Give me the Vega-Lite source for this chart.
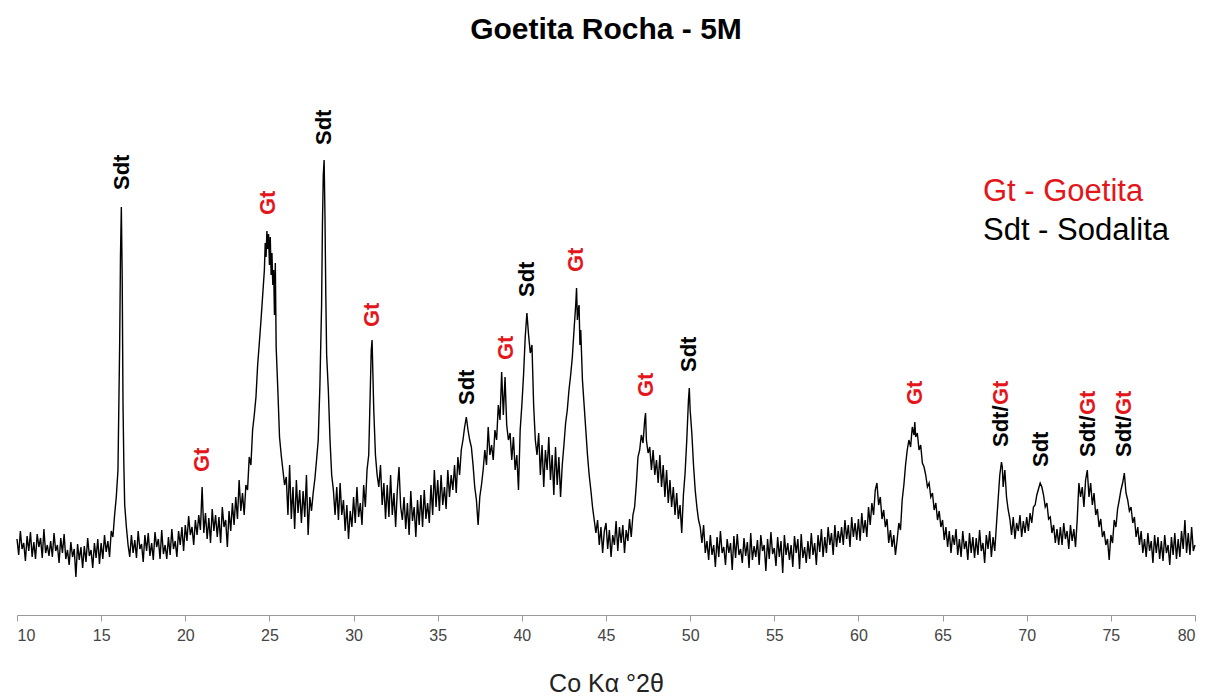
{
"$schema":"https://vega.github.io/schema/vega-lite/v6.json",
"autosize":{"type":"none"},
"width":1178,"height":515,
"padding":{"left":17,"top":100,"right":15,"bottom":84},
"background":"white",
"config":{"view":{"stroke":null},"font":"Liberation Sans"},
"title":{"text":"Goetita Rocha - 5M","anchor":"middle","frame":"group","offset":31,"fontSize":30,"font":"Liberation Sans","fontWeight":"bold","color":"#000000","baseline":"alphabetic"},
"datasets":{
"xrd":[
{"x":10.0,"y":76},{"x":10.1,"y":60},{"x":10.2,"y":84},{"x":10.3,"y":66},{"x":10.4,"y":72},{"x":10.5,"y":54},{"x":10.6,"y":79},{"x":10.7,"y":64},{"x":10.8,"y":83},{"x":10.9,"y":58},
{"x":11.0,"y":73},{"x":11.1,"y":56},{"x":11.2,"y":81},{"x":11.3,"y":68},{"x":11.4,"y":77},{"x":11.5,"y":57},{"x":11.6,"y":86},{"x":11.7,"y":62},{"x":11.8,"y":70},{"x":11.9,"y":59},
{"x":12.0,"y":74},{"x":12.1,"y":58},{"x":12.2,"y":82},{"x":12.3,"y":64},{"x":12.4,"y":70},{"x":12.5,"y":52},{"x":12.6,"y":77},{"x":12.7,"y":62},{"x":12.8,"y":81},{"x":12.9,"y":56},
{"x":13.0,"y":65},{"x":13.1,"y":50},{"x":13.2,"y":73},{"x":13.3,"y":58},{"x":13.4,"y":66},{"x":13.5,"y":38},{"x":13.6,"y":71},{"x":13.7,"y":55},{"x":13.8,"y":68},{"x":13.9,"y":47},
{"x":14.0,"y":69},{"x":14.1,"y":53},{"x":14.2,"y":77},{"x":14.3,"y":59},{"x":14.4,"y":65},{"x":14.5,"y":47},{"x":14.6,"y":72},{"x":14.7,"y":57},{"x":14.8,"y":76},{"x":14.9,"y":51},
{"x":15.0,"y":72},{"x":15.1,"y":56},{"x":15.2,"y":80},{"x":15.3,"y":63},{"x":15.4,"y":74},{"x":15.5,"y":58},{"x":15.6,"y":84},{"x":15.7,"y":78},{"x":15.8,"y":100},{"x":15.9,"y":118},
{"x":16.0,"y":145},{"x":16.1,"y":270},{"x":16.15,"y":360},{"x":16.2,"y":408},{"x":16.25,"y":340},{"x":16.3,"y":210},{"x":16.35,"y":150},{"x":16.4,"y":110},{"x":16.5,"y":88},{"x":16.6,"y":70},{"x":16.7,"y":58},{"x":16.8,"y":80},{"x":16.9,"y":62},
{"x":17.0,"y":75},{"x":17.1,"y":57},{"x":17.2,"y":84},{"x":17.3,"y":66},{"x":17.4,"y":71},{"x":17.5,"y":53},{"x":17.6,"y":80},{"x":17.7,"y":64},{"x":17.8,"y":82},{"x":17.9,"y":59},
{"x":18.0,"y":72},{"x":18.1,"y":55},{"x":18.2,"y":83},{"x":18.3,"y":68},{"x":18.4,"y":76},{"x":18.5,"y":56},{"x":18.6,"y":85},{"x":18.7,"y":61},{"x":18.8,"y":70},{"x":18.9,"y":56},
{"x":19.0,"y":78},{"x":19.1,"y":60},{"x":19.2,"y":86},{"x":19.3,"y":66},{"x":19.4,"y":74},{"x":19.5,"y":58},{"x":19.6,"y":84},{"x":19.7,"y":70},{"x":19.8,"y":88},{"x":19.9,"y":64},
{"x":20.0,"y":90},{"x":20.1,"y":74},{"x":20.2,"y":99},{"x":20.3,"y":80},{"x":20.4,"y":88},{"x":20.5,"y":70},{"x":20.6,"y":95},{"x":20.7,"y":80},{"x":20.8,"y":100},{"x":20.9,"y":85},
{"x":21.0,"y":128},{"x":21.1,"y":82},{"x":21.2,"y":102},{"x":21.3,"y":76},{"x":21.4,"y":97},{"x":21.5,"y":72},{"x":21.6,"y":106},{"x":21.7,"y":84},{"x":21.8,"y":100},{"x":21.9,"y":78},
{"x":22.0,"y":98},{"x":22.1,"y":72},{"x":22.2,"y":108},{"x":22.3,"y":88},{"x":22.4,"y":95},{"x":22.5,"y":68},{"x":22.6,"y":104},{"x":22.7,"y":84},{"x":22.8,"y":112},{"x":22.9,"y":90},
{"x":23.0,"y":118},{"x":23.1,"y":96},{"x":23.2,"y":135},{"x":23.3,"y":104},{"x":23.4,"y":122},{"x":23.5,"y":100},{"x":23.6,"y":130},{"x":23.7,"y":125},{"x":23.8,"y":158},{"x":23.9,"y":150},
{"x":24.0,"y":185},{"x":24.1,"y":200},{"x":24.2,"y":218},{"x":24.3,"y":250},{"x":24.4,"y":272},{"x":24.5,"y":295},{"x":24.6,"y":320},{"x":24.7,"y":345},{"x":24.75,"y":372},{"x":24.8,"y":358},{"x":24.85,"y":384},{"x":24.9,"y":366},{"x":24.95,"y":381},
{"x":25.0,"y":350},{"x":25.05,"y":378},{"x":25.1,"y":340},{"x":25.15,"y":362},{"x":25.2,"y":330},{"x":25.25,"y":345},{"x":25.3,"y":300},{"x":25.35,"y":352},{"x":25.4,"y":268},{"x":25.5,"y":225},{"x":25.6,"y":178},{"x":25.7,"y":160},{"x":25.8,"y":145},{"x":25.9,"y":130},
{"x":26.0,"y":138},{"x":26.1,"y":100},{"x":26.2,"y":150},{"x":26.3,"y":96},{"x":26.4,"y":128},{"x":26.5,"y":86},{"x":26.6,"y":135},{"x":26.7,"y":102},{"x":26.8,"y":125},{"x":26.9,"y":92},
{"x":27.0,"y":124},{"x":27.1,"y":98},{"x":27.2,"y":140},{"x":27.3,"y":80},{"x":27.4,"y":118},{"x":27.5,"y":104},{"x":27.6,"y":122},{"x":27.7,"y":136},{"x":27.8,"y":155},{"x":27.9,"y":175},
{"x":28.0,"y":230},{"x":28.1,"y":310},{"x":28.15,"y":390},{"x":28.2,"y":440},{"x":28.25,"y":455},{"x":28.3,"y":400},{"x":28.35,"y":320},{"x":28.4,"y":260},{"x":28.5,"y":225},{"x":28.6,"y":175},{"x":28.7,"y":140},{"x":28.8,"y":125},{"x":28.9,"y":100},
{"x":29.0,"y":128},{"x":29.1,"y":95},{"x":29.2,"y":132},{"x":29.3,"y":100},{"x":29.4,"y":115},{"x":29.5,"y":84},{"x":29.6,"y":110},{"x":29.7,"y":76},{"x":29.8,"y":104},{"x":29.9,"y":88},
{"x":30.0,"y":118},{"x":30.1,"y":92},{"x":30.2,"y":128},{"x":30.3,"y":98},{"x":30.4,"y":112},{"x":30.5,"y":90},{"x":30.6,"y":130},{"x":30.7,"y":108},{"x":30.8,"y":145},{"x":30.9,"y":160},
{"x":31.0,"y":230},{"x":31.05,"y":265},{"x":31.1,"y":275},{"x":31.15,"y":240},{"x":31.2,"y":205},{"x":31.3,"y":160},{"x":31.4,"y":140},{"x":31.5,"y":128},{"x":31.6,"y":150},{"x":31.7,"y":110},{"x":31.8,"y":132},{"x":31.9,"y":96},
{"x":32.0,"y":130},{"x":32.1,"y":98},{"x":32.2,"y":140},{"x":32.3,"y":100},{"x":32.4,"y":122},{"x":32.5,"y":88},{"x":32.6,"y":125},{"x":32.7,"y":148},{"x":32.8,"y":108},{"x":32.9,"y":95},
{"x":33.0,"y":118},{"x":33.1,"y":86},{"x":33.2,"y":112},{"x":33.3,"y":80},{"x":33.4,"y":124},{"x":33.5,"y":94},{"x":33.6,"y":108},{"x":33.7,"y":78},{"x":33.8,"y":115},{"x":33.9,"y":90},
{"x":34.0,"y":120},{"x":34.1,"y":88},{"x":34.2,"y":125},{"x":34.3,"y":96},{"x":34.4,"y":112},{"x":34.5,"y":92},{"x":34.6,"y":130},{"x":34.7,"y":100},{"x":34.8,"y":145},{"x":34.9,"y":108},
{"x":35.0,"y":135},{"x":35.1,"y":104},{"x":35.2,"y":140},{"x":35.3,"y":110},{"x":35.4,"y":128},{"x":35.5,"y":106},{"x":35.6,"y":145},{"x":35.7,"y":118},{"x":35.8,"y":140},{"x":35.9,"y":125},
{"x":36.0,"y":150},{"x":36.1,"y":122},{"x":36.2,"y":158},{"x":36.3,"y":140},{"x":36.4,"y":165},{"x":36.5,"y":175},{"x":36.6,"y":188},{"x":36.7,"y":198},{"x":36.8,"y":185},{"x":36.9,"y":175},
{"x":37.0,"y":168},{"x":37.1,"y":150},{"x":37.2,"y":128},{"x":37.3,"y":115},{"x":37.4,"y":90},{"x":37.5,"y":118},{"x":37.6,"y":130},{"x":37.7,"y":145},{"x":37.8,"y":165},{"x":37.9,"y":150},
{"x":38.0,"y":188},{"x":38.1,"y":160},{"x":38.2,"y":170},{"x":38.3,"y":155},{"x":38.4,"y":185},{"x":38.5,"y":175},{"x":38.6,"y":210},{"x":38.7,"y":195},{"x":38.8,"y":243},{"x":38.9,"y":200},
{"x":39.0,"y":238},{"x":39.1,"y":190},{"x":39.2,"y":175},{"x":39.3,"y":182},{"x":39.4,"y":155},{"x":39.5,"y":178},{"x":39.6,"y":145},{"x":39.7,"y":160},{"x":39.8,"y":125},{"x":39.9,"y":185},
{"x":40.0,"y":210},{"x":40.1,"y":240},{"x":40.2,"y":278},{"x":40.3,"y":302},{"x":40.4,"y":280},{"x":40.5,"y":262},{"x":40.6,"y":270},{"x":40.7,"y":210},{"x":40.8,"y":175},{"x":40.9,"y":160},
{"x":41.0,"y":182},{"x":41.1,"y":140},{"x":41.2,"y":170},{"x":41.3,"y":128},{"x":41.4,"y":165},{"x":41.5,"y":145},{"x":41.6,"y":178},{"x":41.7,"y":135},{"x":41.8,"y":160},{"x":41.9,"y":120},
{"x":42.0,"y":168},{"x":42.1,"y":130},{"x":42.2,"y":158},{"x":42.3,"y":118},{"x":42.4,"y":150},{"x":42.5,"y":170},{"x":42.6,"y":192},{"x":42.7,"y":205},{"x":42.8,"y":225},{"x":42.9,"y":240},
{"x":43.0,"y":258},{"x":43.1,"y":285},{"x":43.2,"y":310},{"x":43.25,"y":327},{"x":43.3,"y":295},{"x":43.35,"y":305},{"x":43.4,"y":310},{"x":43.45,"y":270},{"x":43.5,"y":285},{"x":43.6,"y":235},{"x":43.7,"y":210},{"x":43.8,"y":185},{"x":43.9,"y":160},
{"x":44.0,"y":140},{"x":44.1,"y":125},{"x":44.2,"y":108},{"x":44.3,"y":95},{"x":44.4,"y":82},{"x":44.5,"y":95},{"x":44.6,"y":70},{"x":44.7,"y":88},{"x":44.8,"y":62},{"x":44.9,"y":84},
{"x":45.0,"y":92},{"x":45.1,"y":66},{"x":45.2,"y":85},{"x":45.3,"y":58},{"x":45.4,"y":80},{"x":45.5,"y":70},{"x":45.6,"y":94},{"x":45.7,"y":64},{"x":45.8,"y":88},{"x":45.9,"y":72},
{"x":46.0,"y":90},{"x":46.1,"y":62},{"x":46.2,"y":85},{"x":46.3,"y":74},{"x":46.4,"y":96},{"x":46.5,"y":78},{"x":46.6,"y":100},{"x":46.7,"y":108},{"x":46.8,"y":130},{"x":46.9,"y":158},
{"x":47.0,"y":165},{"x":47.1,"y":180},{"x":47.2,"y":172},{"x":47.3,"y":195},{"x":47.35,"y":202},{"x":47.4,"y":175},{"x":47.5,"y":162},{"x":47.6,"y":168},{"x":47.7,"y":145},{"x":47.8,"y":165},{"x":47.9,"y":140},
{"x":48.0,"y":155},{"x":48.1,"y":132},{"x":48.2,"y":160},{"x":48.3,"y":128},{"x":48.4,"y":150},{"x":48.5,"y":118},{"x":48.6,"y":145},{"x":48.7,"y":112},{"x":48.8,"y":135},{"x":48.9,"y":108},
{"x":49.0,"y":128},{"x":49.1,"y":100},{"x":49.2,"y":122},{"x":49.3,"y":96},{"x":49.4,"y":110},{"x":49.5,"y":82},{"x":49.6,"y":120},{"x":49.7,"y":142},{"x":49.8,"y":175},{"x":49.9,"y":215},{"x":49.95,"y":227},
{"x":50.0,"y":205},{"x":50.1,"y":182},{"x":50.2,"y":150},{"x":50.3,"y":125},{"x":50.4,"y":108},{"x":50.5,"y":95},{"x":50.6,"y":88},{"x":50.7,"y":72},{"x":50.8,"y":90},{"x":50.9,"y":62},
{"x":51.0,"y":74},{"x":51.1,"y":55},{"x":51.2,"y":80},{"x":51.3,"y":60},{"x":51.4,"y":70},{"x":51.5,"y":48},{"x":51.6,"y":78},{"x":51.7,"y":58},{"x":51.8,"y":84},{"x":51.9,"y":62},
{"x":52.0,"y":68},{"x":52.1,"y":50},{"x":52.2,"y":76},{"x":52.3,"y":62},{"x":52.4,"y":72},{"x":52.5,"y":45},{"x":52.6,"y":79},{"x":52.7,"y":57},{"x":52.8,"y":81},{"x":52.9,"y":60},
{"x":53.0,"y":66},{"x":53.1,"y":52},{"x":53.2,"y":77},{"x":53.3,"y":59},{"x":53.4,"y":73},{"x":53.5,"y":47},{"x":53.6,"y":82},{"x":53.7,"y":55},{"x":53.8,"y":69},{"x":53.9,"y":58},
{"x":54.0,"y":75},{"x":54.1,"y":50},{"x":54.2,"y":80},{"x":54.3,"y":64},{"x":54.4,"y":70},{"x":54.5,"y":44},{"x":54.6,"y":76},{"x":54.7,"y":56},{"x":54.8,"y":83},{"x":54.9,"y":61},
{"x":55.0,"y":67},{"x":55.1,"y":49},{"x":55.2,"y":78},{"x":55.3,"y":58},{"x":55.4,"y":74},{"x":55.5,"y":42},{"x":55.6,"y":80},{"x":55.7,"y":60},{"x":55.8,"y":72},{"x":55.9,"y":55},
{"x":56.0,"y":70},{"x":56.1,"y":48},{"x":56.2,"y":79},{"x":56.3,"y":62},{"x":56.4,"y":76},{"x":56.5,"y":46},{"x":56.6,"y":81},{"x":56.7,"y":57},{"x":56.8,"y":68},{"x":56.9,"y":52},
{"x":57.0,"y":74},{"x":57.1,"y":56},{"x":57.2,"y":82},{"x":57.3,"y":60},{"x":57.4,"y":72},{"x":57.5,"y":50},{"x":57.6,"y":80},{"x":57.7,"y":63},{"x":57.8,"y":86},{"x":57.9,"y":58},
{"x":58.0,"y":78},{"x":58.1,"y":62},{"x":58.2,"y":88},{"x":58.3,"y":70},{"x":58.4,"y":82},{"x":58.5,"y":60},{"x":58.6,"y":90},{"x":58.7,"y":68},{"x":58.8,"y":84},{"x":58.9,"y":72},
{"x":59.0,"y":88},{"x":59.1,"y":70},{"x":59.2,"y":95},{"x":59.3,"y":76},{"x":59.4,"y":90},{"x":59.5,"y":68},{"x":59.6,"y":98},{"x":59.7,"y":78},{"x":59.8,"y":92},{"x":59.9,"y":75},
{"x":60.0,"y":96},{"x":60.1,"y":74},{"x":60.2,"y":102},{"x":60.3,"y":82},{"x":60.4,"y":95},{"x":60.5,"y":78},{"x":60.6,"y":108},{"x":60.7,"y":90},{"x":60.8,"y":112},{"x":60.9,"y":100},
{"x":61.0,"y":125},{"x":61.1,"y":132},{"x":61.2,"y":110},{"x":61.3,"y":118},{"x":61.4,"y":96},{"x":61.5,"y":105},{"x":61.6,"y":88},{"x":61.7,"y":96},{"x":61.8,"y":72},{"x":61.9,"y":85},
{"x":62.0,"y":68},{"x":62.1,"y":80},{"x":62.2,"y":60},{"x":62.3,"y":75},{"x":62.4,"y":92},{"x":62.5,"y":85},{"x":62.6,"y":115},{"x":62.7,"y":130},{"x":62.8,"y":150},{"x":62.9,"y":165},
{"x":63.0,"y":175},{"x":63.1,"y":168},{"x":63.2,"y":188},{"x":63.3,"y":180},{"x":63.35,"y":193},{"x":63.4,"y":178},{"x":63.5,"y":182},{"x":63.6,"y":165},{"x":63.7,"y":170},{"x":63.8,"y":152},{"x":63.9,"y":148},
{"x":64.0,"y":140},{"x":64.1,"y":128},{"x":64.2,"y":132},{"x":64.3,"y":118},{"x":64.4,"y":122},{"x":64.5,"y":105},{"x":64.6,"y":112},{"x":64.7,"y":95},{"x":64.8,"y":104},{"x":64.9,"y":88},
{"x":65.0,"y":95},{"x":65.1,"y":75},{"x":65.2,"y":88},{"x":65.3,"y":68},{"x":65.4,"y":84},{"x":65.5,"y":62},{"x":65.6,"y":80},{"x":65.7,"y":70},{"x":65.8,"y":86},{"x":65.9,"y":60},
{"x":66.0,"y":76},{"x":66.1,"y":58},{"x":66.2,"y":84},{"x":66.3,"y":66},{"x":66.4,"y":74},{"x":66.5,"y":55},{"x":66.6,"y":82},{"x":66.7,"y":62},{"x":66.8,"y":78},{"x":66.9,"y":57},
{"x":67.0,"y":77},{"x":67.1,"y":60},{"x":67.2,"y":85},{"x":67.3,"y":64},{"x":67.4,"y":72},{"x":67.5,"y":52},{"x":67.6,"y":80},{"x":67.7,"y":66},{"x":67.8,"y":84},{"x":67.9,"y":58},
{"x":68.0,"y":78},{"x":68.1,"y":64},{"x":68.2,"y":90},{"x":68.3,"y":115},{"x":68.4,"y":140},{"x":68.5,"y":153},{"x":68.55,"y":148},{"x":68.6,"y":128},{"x":68.7,"y":145},{"x":68.8,"y":118},{"x":68.9,"y":105},
{"x":69.0,"y":96},{"x":69.1,"y":80},{"x":69.2,"y":98},{"x":69.3,"y":76},{"x":69.4,"y":92},{"x":69.5,"y":84},{"x":69.6,"y":100},{"x":69.7,"y":78},{"x":69.8,"y":94},{"x":69.9,"y":82},
{"x":70.0,"y":98},{"x":70.1,"y":84},{"x":70.2,"y":102},{"x":70.3,"y":92},{"x":70.4,"y":108},{"x":70.5,"y":110},{"x":70.6,"y":120},{"x":70.7,"y":126},{"x":70.8,"y":132},{"x":70.9,"y":128},
{"x":71.0,"y":120},{"x":71.1,"y":108},{"x":71.2,"y":112},{"x":71.3,"y":96},{"x":71.4,"y":98},{"x":71.5,"y":82},{"x":71.6,"y":90},{"x":71.7,"y":72},{"x":71.8,"y":86},{"x":71.9,"y":70},
{"x":72.0,"y":88},{"x":72.1,"y":70},{"x":72.2,"y":92},{"x":72.3,"y":76},{"x":72.4,"y":84},{"x":72.5,"y":66},{"x":72.6,"y":90},{"x":72.7,"y":74},{"x":72.8,"y":86},{"x":72.9,"y":68},
{"x":73.0,"y":95},{"x":73.1,"y":132},{"x":73.2,"y":118},{"x":73.3,"y":128},{"x":73.4,"y":108},{"x":73.5,"y":135},{"x":73.6,"y":145},{"x":73.7,"y":118},{"x":73.8,"y":132},{"x":73.9,"y":110},
{"x":74.0,"y":122},{"x":74.1,"y":100},{"x":74.2,"y":106},{"x":74.3,"y":88},{"x":74.4,"y":96},{"x":74.5,"y":78},{"x":74.6,"y":84},{"x":74.7,"y":70},{"x":74.8,"y":76},{"x":74.9,"y":55},
{"x":75.0,"y":80},{"x":75.1,"y":72},{"x":75.2,"y":95},{"x":75.3,"y":88},{"x":75.4,"y":106},{"x":75.5,"y":115},{"x":75.6,"y":125},{"x":75.7,"y":132},{"x":75.8,"y":142},{"x":75.9,"y":122},
{"x":76.0,"y":115},{"x":76.1,"y":104},{"x":76.2,"y":108},{"x":76.3,"y":92},{"x":76.4,"y":98},{"x":76.5,"y":78},{"x":76.6,"y":88},{"x":76.7,"y":70},{"x":76.8,"y":84},{"x":76.9,"y":62},
{"x":77.0,"y":76},{"x":77.1,"y":58},{"x":77.2,"y":82},{"x":77.3,"y":64},{"x":77.4,"y":74},{"x":77.5,"y":52},{"x":77.6,"y":80},{"x":77.7,"y":62},{"x":77.8,"y":78},{"x":77.9,"y":56},
{"x":78.0,"y":74},{"x":78.1,"y":54},{"x":78.2,"y":80},{"x":78.3,"y":62},{"x":78.4,"y":70},{"x":78.5,"y":50},{"x":78.6,"y":78},{"x":78.7,"y":60},{"x":78.8,"y":82},{"x":78.9,"y":56},
{"x":79.0,"y":76},{"x":79.1,"y":58},{"x":79.2,"y":84},{"x":79.3,"y":66},{"x":79.4,"y":95},{"x":79.5,"y":62},{"x":79.6,"y":82},{"x":79.7,"y":60},{"x":79.8,"y":88},{"x":79.9,"y":64},
{"x":80.0,"y":70}
],
"peaks":[
{"x":16.21,"y":425,"t":"Sdt","m":"Sdt"},
{"x":20.99,"y":143,"t":"Gt","m":"Gt"},
{"x":24.91,"y":400,"t":"Gt","m":"Gt"},
{"x":28.24,"y":470,"t":"Sdt","m":"Sdt"},
{"x":31.09,"y":288,"t":"Gt","m":"Gt"},
{"x":36.74,"y":210,"t":"Sdt","m":"Sdt"},
{"x":39.06,"y":255,"t":"Gt","m":"Gt"},
{"x":40.30,"y":318,"t":"Sdt","m":"Sdt"},
{"x":43.21,"y":343,"t":"Gt","m":"Gt"},
{"x":47.37,"y":218,"t":"Gt","m":"Gt"},
{"x":49.93,"y":243,"t":"Sdt","m":"Sdt"},
{"x":63.36,"y":210,"t":"Gt","m":"Gt"},
{"x":68.47,"y":168,"t":"Sdt/","m":"Sdt"},
{"x":68.47,"y":210,"t":"Gt","m":"Gt"},
{"x":70.85,"y":148,"t":"Sdt","m":"Sdt"},
{"x":73.64,"y":158,"t":"Sdt/","m":"Sdt"},
{"x":73.64,"y":200,"t":"Gt","m":"Gt"},
{"x":75.78,"y":158,"t":"Sdt/","m":"Sdt"},
{"x":75.78,"y":200,"t":"Gt","m":"Gt"}
],
"key":[
{"x":67.4,"y":414,"t":"Gt - Goetita","m":"Gt"},
{"x":67.4,"y":375,"t":"Sdt - Sodalita","m":"Sdt"}
]
},
"layer":[
{
"data":{"name":"xrd"},
"mark":{"type":"line","color":"#000000","strokeWidth":1.4,"interpolate":"linear"},
"encoding":{
"x":{"field":"x","type":"quantitative","scale":{"domain":[10,80],"nice":false,"zero":false},
"axis":{"title":"Co Kα °2θ","values":[10,15,20,25,30,35,40,45,50,55,60,65,70,75,80],"grid":false,"domainColor":"#999999","tickColor":"#999999","tickSize":6,"labelPadding":6,"labelFontSize":16,"labelFont":"Liberation Sans","labelColor":"#444444","titleFontSize":25,"titleFont":"Liberation Sans","titleFontWeight":"normal","titleColor":"#222222","titlePadding":28}},
"y":{"field":"y","type":"quantitative","scale":{"domain":[0,515],"nice":false,"zero":false},"axis":null}
}
},
{
"data":{"name":"peaks"},
"mark":{"type":"text","angle":270,"align":"left","baseline":"middle","fontSize":22,"fontWeight":"bold","font":"Liberation Sans"},
"encoding":{
"x":{"field":"x","type":"quantitative"},
"y":{"field":"y","type":"quantitative"},
"text":{"field":"t"},
"color":{"field":"m","type":"nominal","scale":{"domain":["Gt","Sdt"],"range":["#e3161b","#000000"]},"legend":null}
}
},
{
"data":{"name":"key"},
"mark":{"type":"text","align":"left","baseline":"alphabetic","fontSize":31,"font":"Liberation Sans"},
"encoding":{
"x":{"field":"x","type":"quantitative"},
"y":{"field":"y","type":"quantitative"},
"text":{"field":"t"},
"color":{"field":"m","type":"nominal","scale":{"domain":["Gt","Sdt"],"range":["#e3161b","#000000"]},"legend":null}
}
}
]
}
